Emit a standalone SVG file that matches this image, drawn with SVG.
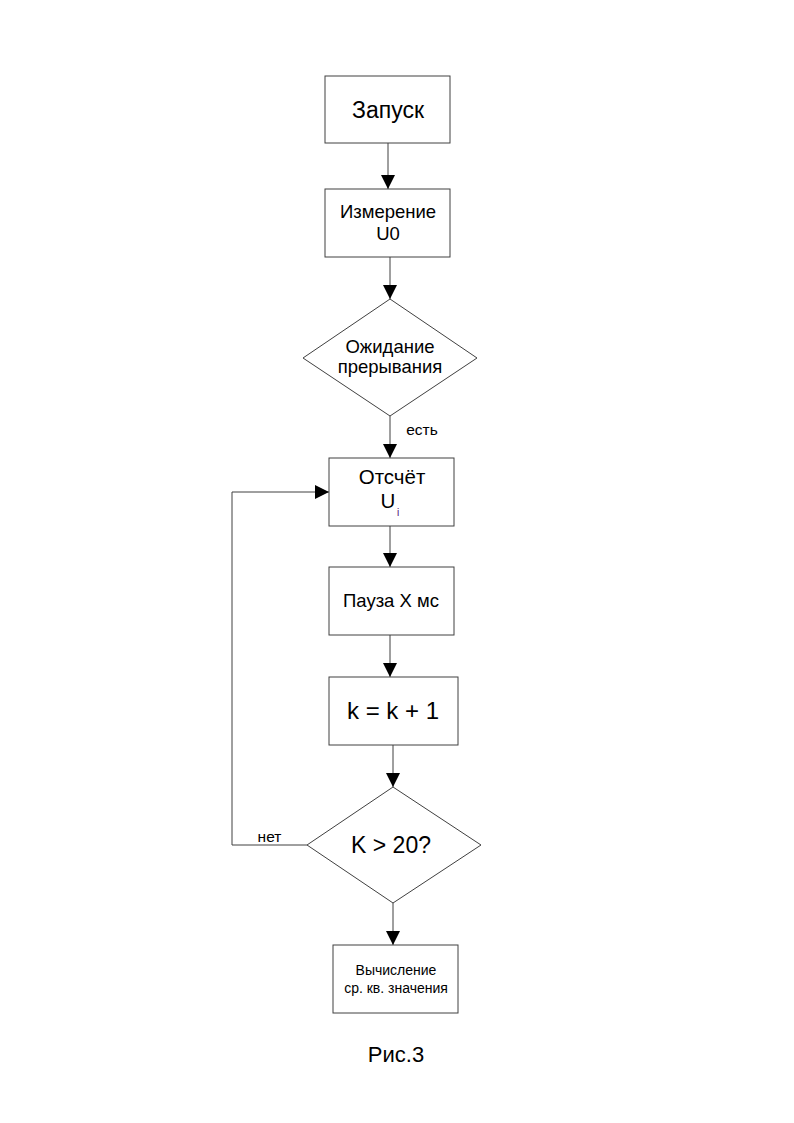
<svg xmlns="http://www.w3.org/2000/svg" width="794" height="1123" viewBox="0 0 794 1123">
<style>
.box{fill:#fff;stroke:#404040;stroke-width:1}
.ln{fill:none;stroke:#404040;stroke-width:1}
text{font-family:"Liberation Sans",Arial,sans-serif;fill:#000;text-anchor:middle}
</style>
<defs>
<marker id="ah" markerUnits="userSpaceOnUse" markerWidth="14" markerHeight="16" viewBox="0 0 14 16" refX="14" refY="7" orient="auto">
<path d="M0,0 L14,7 L0,14 Z" fill="#000"/>
</marker>
</defs>
<rect width="794" height="1123" fill="#fff"/>
<g id="connectors">
<line class="ln" x1="388" y1="143" x2="388" y2="189" marker-end="url(#ah)"/>
<line class="ln" x1="390" y1="257" x2="390" y2="299" marker-end="url(#ah)"/>
<line class="ln" x1="390" y1="416" x2="390" y2="458" marker-end="url(#ah)"/>
<line class="ln" x1="390" y1="526" x2="390" y2="567" marker-end="url(#ah)"/>
<line class="ln" x1="390" y1="635" x2="390" y2="677" marker-end="url(#ah)"/>
<line class="ln" x1="393" y1="745" x2="393" y2="787" marker-end="url(#ah)"/>
<line class="ln" x1="393" y1="903" x2="393" y2="945" marker-end="url(#ah)"/>
<polyline class="ln" points="307,845 232,845 232,492 329,492" marker-end="url(#ah)"/>
<text x="422" y="435" font-size="15.5">есть</text>
<text x="269.5" y="842" font-size="15.5">нет</text>
</g>
<g id="n1">
<rect class="box" x="325" y="76" width="125" height="67"/>
<text x="388" y="118" font-size="23">Запуск</text>
</g>
<g id="n2">
<rect class="box" x="325" y="189" width="125" height="68"/>
<text x="388" y="218" font-size="18.5">Измерение</text>
<text x="388" y="240" font-size="18.5">U0</text>
</g>
<g id="n3">
<polygon class="box" points="390,299 477,358 390,416 303,358"/>
<text x="390" y="353" font-size="18.5">Ожидание</text>
<text x="390" y="373" font-size="18.5">прерывания</text>
</g>
<g id="n4">
<rect class="box" x="329" y="458" width="125" height="68"/>
<text x="392" y="484" font-size="20.5">Отсчёт</text>
<text x="388" y="508" font-size="20.5">U</text>
<text x="398" y="516" font-size="10" style="fill:#4b0f6e">i</text>
</g>
<g id="n5">
<rect class="box" x="329" y="567" width="125" height="68"/>
<text x="391" y="607" font-size="18.5">Пауза Х мс</text>
</g>
<g id="n6">
<rect class="box" x="329" y="677" width="129" height="68"/>
<text x="393" y="719" font-size="24">k = k + 1</text>
</g>
<g id="n7">
<polygon class="box" points="393,787 481,845 393,903 307,845"/>
<text x="391" y="853" font-size="23">K &gt; 20?</text>
</g>
<g id="n8">
<rect class="box" x="333" y="945" width="125" height="68"/>
<text x="396" y="975" font-size="14">Вычисление</text>
<text x="396" y="993" font-size="14">ср. кв. значения</text>
</g>
<text x="396" y="1062" font-size="22">Рис.3</text>
</svg>
